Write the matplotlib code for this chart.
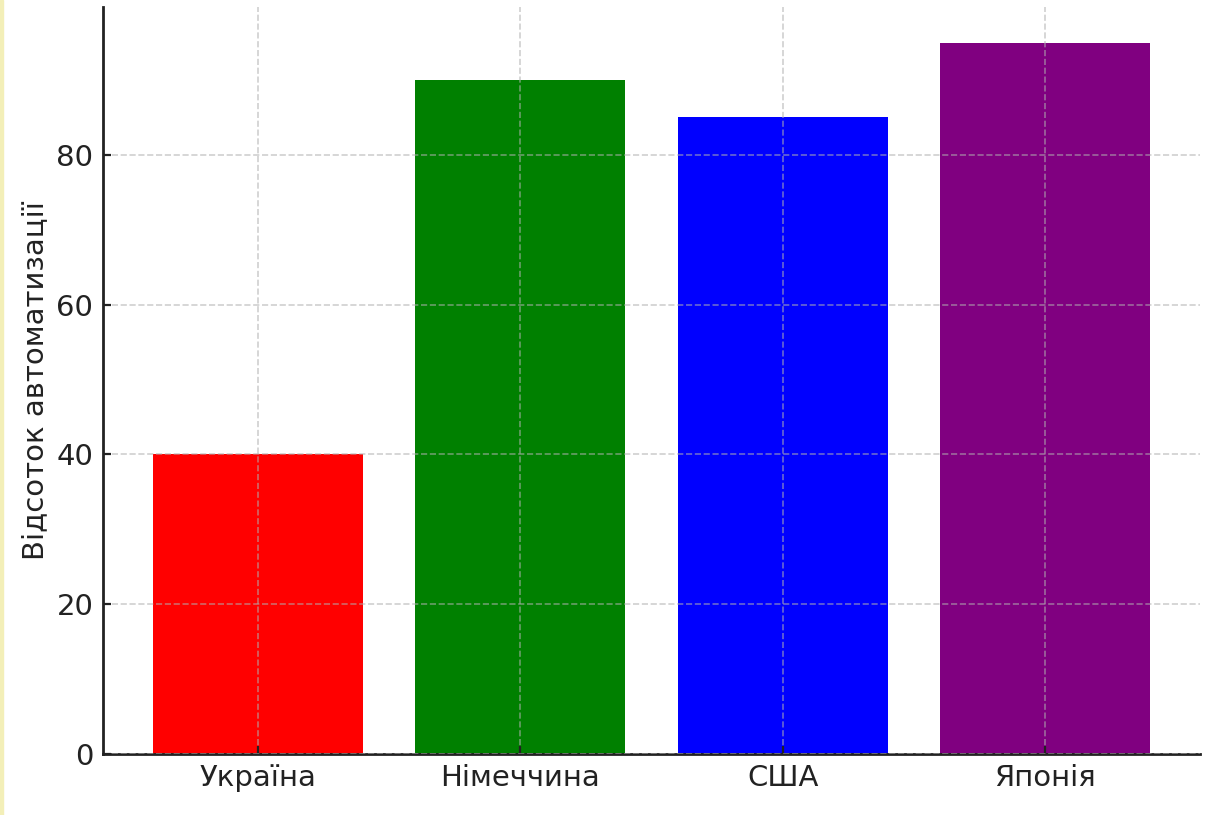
"""Automation share by country, bar chart."""

import matplotlib

matplotlib.use("Agg")

import matplotlib.pyplot as plt
from matplotlib.patches import Rectangle

countries = ["Україна", "Німеччина", "США", "Японія"]
automation = [40, 90, 85, 95]
colors = ["red", "green", "blue", "purple"]
y_ticks = [0, 20, 40, 60, 80]

W, H = 1214, 815


def main() -> None:
    plt.rcParams["font.family"] = ["DejaVu Sans"]
    fig = plt.figure(figsize=(W / 100, H / 100), dpi=100)
    ax = fig.add_axes([103 / W, (H - 754) / H, (1200 - 103) / W, (754 - 7) / H])

    ax.bar(countries, automation, color=colors, width=0.8)
    ax.set_ylabel("Відсоток автоматизації", fontsize=21, color="#222222", labelpad=5)
    ax.set_yticks(y_ticks)
    ax.tick_params(axis="both", labelsize=21, length=6, width=1.6, direction="in",
                   pad=7, colors="#222222", labelcolor="#222222")
    ax.grid(True, linestyle="--", color="#b0b0b0", alpha=0.6, linewidth=1.2)
    ax.set_axisbelow(False)
    for side in ("top", "right"):
        ax.spines[side].set_visible(False)
    for side in ("left", "bottom"):
        ax.spines[side].set_linewidth(2)
        ax.spines[side].set_color("#222222")

    # thin pale border at the left edge of the screenshot
    fig.patches.append(Rectangle((0, 0), 3 / W, 1, transform=fig.transFigure,
                                 color="#f3efb8", zorder=10))

    fig.savefig("out.png", dpi=100)
    plt.close(fig)


if __name__ == "__main__":
    main()
